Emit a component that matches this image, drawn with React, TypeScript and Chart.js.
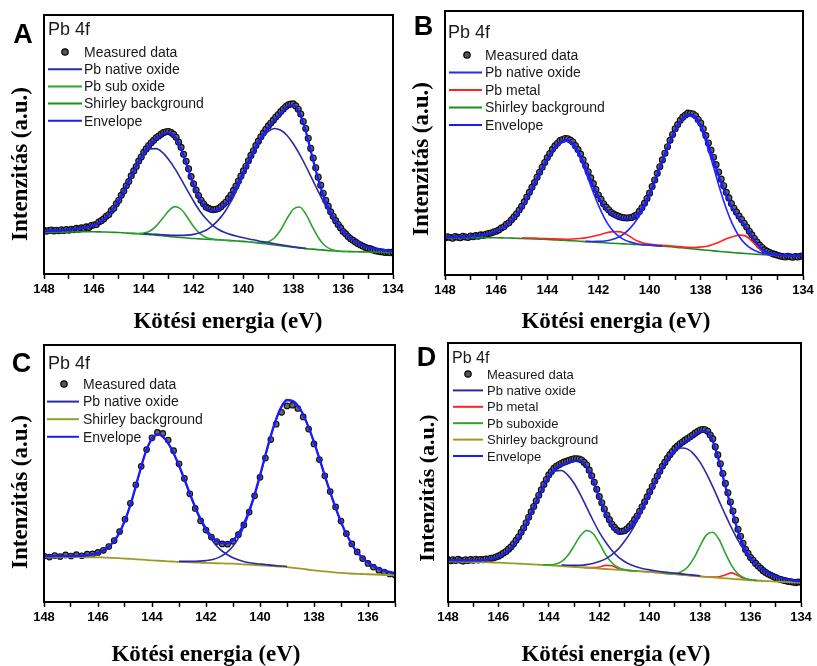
import React, { useEffect, useRef } from "react";
import { Chart, registerables } from "chart.js";

Chart.register(...registerables);

const SANS = "'Liberation Sans', Arial, Helvetica, sans-serif";
const SERIF = "'Liberation Serif', 'Times New Roman', Times, serif";

const X_TITLE = "Kötési energia (eV)";
const Y_TITLE = "Intenzitás (a.u.)";
const REGION = "Pb 4f";

// ---------- energy grids (eV) ----------
const E_FINE = [
  148.0, 147.9, 147.8, 147.7, 147.6, 147.5, 147.4, 147.3, 147.2, 147.1,
  147.0, 146.9, 146.8, 146.7, 146.6, 146.5, 146.4, 146.3, 146.2, 146.1,
  146.0, 145.9, 145.8, 145.7, 145.6, 145.5, 145.4, 145.3, 145.2, 145.1,
  145.0, 144.9, 144.8, 144.7, 144.6, 144.5, 144.4, 144.3, 144.2, 144.1,
  144.0, 143.9, 143.8, 143.7, 143.6, 143.5, 143.4, 143.3, 143.2, 143.1,
  143.0, 142.9, 142.8, 142.7, 142.6, 142.5, 142.4, 142.3, 142.2, 142.1,
  142.0, 141.9, 141.8, 141.7, 141.6, 141.5, 141.4, 141.3, 141.2, 141.1,
  141.0, 140.9, 140.8, 140.7, 140.6, 140.5, 140.4, 140.3, 140.2, 140.1,
  140.0, 139.9, 139.8, 139.7, 139.6, 139.5, 139.4, 139.3, 139.2, 139.1,
  139.0, 138.9, 138.8, 138.7, 138.6, 138.5, 138.4, 138.3, 138.2, 138.1,
  138.0, 137.9, 137.8, 137.7, 137.6, 137.5, 137.4, 137.3, 137.2, 137.1,
  137.0, 136.9, 136.8, 136.7, 136.6, 136.5, 136.4, 136.3, 136.2, 136.1,
  136.0, 135.9, 135.8, 135.7, 135.6, 135.5, 135.4, 135.3, 135.2, 135.1,
  135.0, 134.9, 134.8, 134.7, 134.6, 134.5, 134.4, 134.3, 134.2, 134.1,
  134.0,
];

const E_STEP2 = [
  148.0, 147.8, 147.6, 147.4, 147.2, 147.0, 146.8, 146.6, 146.4, 146.2,
  146.0, 145.8, 145.6, 145.4, 145.2, 145.0, 144.8, 144.6, 144.4, 144.2,
  144.0, 143.8, 143.6, 143.4, 143.2, 143.0, 142.8, 142.6, 142.4, 142.2,
  142.0, 141.8, 141.6, 141.4, 141.2, 141.0, 140.8, 140.6, 140.4, 140.2,
  140.0, 139.8, 139.6, 139.4, 139.2, 139.0, 138.8, 138.6, 138.4, 138.2,
  138.0, 137.8, 137.6, 137.4, 137.2, 137.0, 136.8, 136.6, 136.4, 136.2,
  136.0, 135.8, 135.6, 135.4, 135.2, 135.0,
];

const E_GRID = [
  148, 147.75, 147.5, 147.25, 147, 146.75, 146.5, 146.25,
  146, 145.75, 145.5, 145.25, 145, 144.75, 144.5, 144.25,
  144, 143.75, 143.5, 143.25, 143, 142.75, 142.5, 142.25,
  142, 141.75, 141.5, 141.25, 141, 140.75, 140.5, 140.25,
  140, 139.75, 139.5, 139.25, 139, 138.75, 138.5, 138.25,
  138, 137.75, 137.5, 137.25, 137, 136.75, 136.5, 136.25,
  136, 135.75, 135.5, 135.25, 135, 134.75, 134.5, 134.25,
  134,
];

// ---------- Panel A ----------
const A_MEAS = [
  16.9, 16.5, 16.8, 17.0, 16.6, 16.9, 16.7, 17.1, 16.8, 17.2,
  16.9, 17.3, 17.1, 17.6, 17.3, 17.8, 17.6, 18.2, 18.0, 18.7,
  18.9, 19.1, 20.1, 20.6, 21.3, 22.3, 23.0, 24.5, 25.4, 27.1,
  28.5, 30.4, 32.0, 34.1, 35.7, 37.9, 39.8, 41.5, 43.6, 45.2,
  47.0, 48.3, 49.6, 50.7, 51.6, 52.6, 53.3, 54.0, 54.6, 54.9,
  55.0, 54.6, 53.9, 52.8, 50.9, 48.9, 46.2, 43.5, 40.6, 37.6,
  34.8, 32.4, 30.3, 28.5, 27.1, 25.9, 25.4, 25.0, 24.8, 25.0,
  25.3, 26.0, 26.9, 27.8, 29.2, 30.5, 32.3, 34.0, 35.9, 37.8,
  39.8, 41.6, 43.7, 45.8, 47.6, 49.6, 51.3, 53.0, 54.5, 55.9,
  57.2, 58.3, 59.4, 60.6, 61.6, 62.7, 63.7, 64.7, 65.3, 65.6,
  65.7, 64.9, 63.6, 61.8, 58.9, 56.2, 52.4, 48.5, 44.8, 41.0,
  37.4, 34.3, 31.2, 28.5, 26.2, 24.0, 22.3, 20.6, 19.1, 17.8,
  16.4, 15.5, 14.5, 13.6, 13.0, 12.3, 11.7, 11.2, 10.7, 10.2,
  9.9, 9.7, 9.3, 9.0, 8.8, 8.6, 8.5, 8.3, 8.4, 8.2,
  8.5,
];
const A_BG = [
  16.0, 16.05, 16.1, 16.15, 16.2, 16.25, 16.3, 16.3,
  16.3, 16.25, 16.2, 16.1, 16.0, 15.85, 15.7, 15.55,
  15.4, 15.2, 15.0, 14.75, 14.5, 14.3, 14.1, 13.9,
  13.7, 13.55, 13.4, 13.3, 13.2, 13.05, 12.9, 12.75,
  12.6, 12.35, 12.1, 11.8, 11.5, 11.2, 10.9, 10.6,
  10.3, 10.05, 9.8, 9.6, 9.4, 9.2, 9.0, 8.85,
  8.7, 8.65, 8.6, 8.55, 8.5, 8.45, 8.4, 8.35,
  8.3,
];
const A_ENV = [
  16.6, 16.7, 16.8, 16.95, 17.1, 17.35, 17.7, 18.1,
  18.8, 20.05, 22.0, 24.7, 28.4, 32.95, 37.7, 42.55,
  46.8, 49.95, 52.2, 53.95, 54.6, 53.0, 48.3, 41.4,
  34.3, 28.85, 25.5, 24.4, 24.9, 26.95, 30.2, 34.55,
  39.4, 44.45, 49.2, 53.4, 56.7, 59.5, 62.1, 64.6,
  65.2, 62.2, 55.2, 45.7, 36.6, 29.1, 23.7, 19.65,
  16.5, 14.25, 12.5, 11.25, 10.3, 9.75, 9.4, 9.05,
  8.8,
];
const A_NAT1_START = 148;
const A_NAT1 = [
  16.6, 16.7, 16.8, 16.95, 17.1, 17.35, 17.7, 18.1,
  18.8, 20.05, 22.0, 24.7, 28.4, 32.95, 37.6, 42.35,
  46.2, 48.3, 48.4, 46.95, 44.2, 40.7, 36.6, 32.3,
  28.1, 24.35, 21.3, 18.9, 17.2, 16.05, 15.2, 14.55,
  14.0, 13.45, 13.0, 12.5, 12.1, 11.7, 11.3, 10.9,
  10.5, 10.2, 9.9,
];
const A_NAT2_START = 144;
const A_NAT2 = [
  15.6, 15.45, 15.3, 15.15,
  15.0, 14.9, 14.9, 15.0,
  15.3, 15.95, 16.9, 18.6,
  20.9, 23.95, 27.9, 32.75,
  38.0, 43.35, 48.3, 52.4,
  55.1, 56.2, 55.5, 53.5,
  50.3, 46.25, 41.7, 36.8,
  31.9, 27.2, 23.1, 19.55,
  16.5, 14.25, 12.5, 11.25,
  10.3, 9.75, 9.4, 9.05,
  8.8,
];
const A_SUB1_START = 144.5;
const A_SUB1 = [
  15.7, 15.65, 15.8, 16.6, 18.5, 21.35, 24.4, 26.0, 25.0,
  21.9, 18.3, 15.65, 14.1, 13.5, 13.2, 13.05, 12.9,
];
const A_SUB2_START = 139.75;
const A_SUB2 = [
  12.35, 12.15, 12.1, 12.5, 14.0, 17.1, 21.4, 25.0, 25.85,
  23.2, 18.5, 14.1, 11.1, 9.6, 8.95, 8.7, 8.65,
];

// ---------- Panel B ----------
const B_MEAS = [
  14.0, 14.5, 14.2, 13.9, 14.6, 14.3, 14.1, 14.7, 14.4, 14.2,
  14.8, 14.5, 14.9, 14.7, 15.2, 15.0, 15.4, 15.7, 15.9, 16.3,
  16.6, 17.0, 17.8, 18.3, 19.2, 19.8, 20.9, 22.0, 23.2, 24.6,
  26.0, 27.7, 29.5, 31.3, 33.2, 35.0, 37.0, 38.9, 40.8, 42.6,
  44.5, 46.0, 47.6, 48.9, 49.9, 50.9, 51.3, 51.7, 51.6, 51.1,
  50.4, 49.0, 47.5, 45.8, 43.6, 41.4, 39.1, 36.8, 34.6, 32.4,
  30.3, 28.7, 27.0, 25.7, 24.7, 23.7, 23.1, 22.6, 22.2, 21.9,
  21.7, 21.6, 21.7, 21.8, 22.3, 22.8, 24.1, 25.5, 27.2, 29.0,
  31.0, 33.5, 36.0, 38.5, 41.0, 43.6, 46.1, 48.6, 51.0, 53.2,
  55.4, 57.0, 58.6, 59.8, 60.6, 61.3, 61.2, 61.0, 60.3, 58.9,
  57.6, 55.4, 52.8, 50.0, 47.3, 44.6, 41.8, 39.0, 36.3, 33.8,
  31.3, 29.2, 27.1, 25.3, 23.8, 22.3, 21.0, 19.6, 18.2, 16.6,
  15.2, 13.8, 12.5, 11.3, 10.4, 9.5, 9.0, 8.5, 8.1, 7.8,
  7.5, 7.2, 7.0, 6.8, 7.1, 6.9, 6.7, 7.0, 6.8, 7.1,
  7.3,
];
const B_BG = [
  14.0, 14.05, 14.1, 14.12, 14.15, 14.15, 14.15, 14.12,
  14.1, 14.05, 14.0, 13.92, 13.85, 13.75, 13.65, 13.55,
  13.45, 13.32, 13.2, 13.07, 12.95, 12.8, 12.65, 12.5,
  12.35, 12.2, 12.05, 11.92, 11.8, 11.67, 11.55, 11.42,
  11.3, 11.12, 10.95, 10.75, 10.55, 10.3, 10.05, 9.82,
  9.6, 9.37, 9.15, 8.92, 8.7, 8.5, 8.3, 8.12,
  7.95, 7.8, 7.65, 7.55, 7.45, 7.37, 7.3, 7.25,
  7.2,
];
const B_ENV = [
  14.3, 14.35, 14.45, 14.52, 14.65, 14.85, 15.15, 15.62,
  16.5, 17.85, 19.7, 22.32, 25.75, 30.0, 34.75, 39.55,
  44.1, 47.87, 50.3, 51.17, 49.75, 46.0, 40.55, 34.8,
  29.65, 25.6, 23.15, 21.82, 21.3, 21.47, 22.65, 25.92,
  30.7, 36.72, 43.15, 49.35, 54.85, 58.85, 60.75, 60.22,
  56.7, 50.47, 43.45, 36.32, 30.1, 25.1, 21.5, 18.42,
  14.75, 11.3, 9.05, 8.05, 7.65, 7.4, 7.3, 7.25,
  7.2,
];
const B_NAT1_START = 148;
const B_NAT1 = [
  14.3, 14.35, 14.45, 14.52, 14.65, 14.85, 15.15, 15.6,
  16.5, 17.85, 19.7, 22.3, 25.55, 29.75, 34.45, 39.25,
  43.75, 47.5, 49.9, 50.65, 49.05, 45.0, 39.05, 32.5,
  26.45, 21.3, 17.55, 15.0, 13.4, 12.45, 11.85, 11.5,
  11.3, 11.12, 10.95,
];
const B_NAT2_START = 142.5;
const B_NAT2 = [
  12.75, 12.7,
  12.75, 12.9, 13.35, 14.2, 15.6, 17.85, 20.95, 25.1,
  30.3, 36.4, 42.85, 49.05, 54.55, 58.5, 60.35, 59.6,
  55.7, 48.95, 40.95, 32.6, 25.1, 19.1, 14.7, 11.7,
  9.85, 8.7, 8.05, 7.75, 7.55, 7.4, 7.3,
];
const B_METAL_START = 145;
const B_METAL = [
  14.05, 14.0, 13.95, 13.85, 13.8, 13.67, 13.6, 13.57,
  13.65, 13.8, 14.05, 14.6, 15.15, 15.8, 16.35, 16.42,
  15.9, 14.47, 12.95, 12.12, 11.7, 11.42, 11.25, 11.05,
  10.85, 10.65, 10.45, 10.42, 10.6, 10.87, 11.65, 12.62,
  13.7, 14.5, 15.1, 14.82, 12.85, 10.4, 8.65, 7.85,
  7.55, 7.37, 7.3,
];

// ---------- Panel C ----------
const C_MEAS = [
  17.9, 17.5, 18.1, 17.7, 18.3, 17.9, 18.4, 18.0, 18.6, 18.7,
  19.3, 20.1, 21.6, 23.9, 27.4, 32.2, 38.4, 45.6, 52.8, 59.3,
  63.9, 66.0, 65.6, 63.0, 58.9, 53.8, 48.1, 42.1, 36.4, 31.6,
  28.0, 25.3, 23.5, 22.6, 22.5, 23.6, 26.2, 30.0, 35.0, 41.3,
  48.5, 56.0, 63.2, 69.2, 73.8, 76.3, 76.6, 75.3, 72.0, 67.3,
  61.5, 55.4, 49.1, 43.0, 37.0, 31.5, 26.6, 22.6, 19.5, 16.9,
  15.0, 13.6, 12.4, 11.6, 10.9, 10.5,
];
const C_BG_START = 148;
const C_BG = [
  17.5, 17.5, 17.5, 17.48, 17.45, 17.43, 17.42, 17.41,
  17.4, 17.3, 17.2, 17.05, 16.9, 16.75, 16.6, 16.4,
  16.2, 16.05, 15.9, 15.75, 15.6, 15.5, 15.4, 15.3,
  15.2, 15.12, 15.05, 14.97, 14.9, 14.75, 14.6, 14.45,
  14.3, 14.12, 13.95, 13.78, 13.6, 13.3, 13.0, 12.65,
  12.3, 12.05, 11.8, 11.55, 11.3, 11.15, 11.0, 10.9,
  10.8, 10.7, 10.6, 10.5, 10.4,
];
const C_ENV_START = 148;
const C_ENV = [
  17.8, 17.8, 17.85, 17.88, 17.9, 17.98, 18.1, 18.45,
  19.1, 20.3, 22.6, 26.1, 31.8, 39.5, 48.9, 57.8,
  63.6, 65.25, 63.2, 58.95, 53.1, 46.4, 39.6, 33.4,
  28.6, 25.0, 23.05, 22.77, 24.0, 27.35, 32.8, 40.15,
  49.3, 59.12, 68.15, 75.13, 78.6, 78.05, 74.9, 69.3,
  62.2, 54.15, 45.9, 38.15, 31.1, 25.35, 20.8, 17.6,
  15.3, 13.7, 12.6, 11.8, 11.3,
];
const C_NAT1_START = 148;
const C_NAT1 = [
  17.8, 17.8, 17.85, 17.88, 17.9, 17.98, 18.1, 18.45,
  19.1, 20.3, 22.6, 26.1, 31.8, 39.5, 48.9, 57.8,
  63.6, 65.25, 63.2, 58.95, 52.9, 46.1, 39.2, 32.8,
  27.7, 23.62, 20.65, 18.67, 17.2, 16.25, 15.5, 15.05,
  14.8, 14.52, 14.25, 14.03, 13.8,
];
const C_NAT2_START = 143;
const C_NAT2 = [
  15.8, 15.8, 15.8, 15.9, 16.1, 16.52, 17.45, 19.07,
  21.7, 25.85, 31.9, 39.55, 48.8, 58.72, 67.85, 74.88,
  78.4, 77.9, 74.8, 69.25, 62.2, 54.15, 45.9, 38.15,
  31.1, 25.35, 20.8, 17.6, 15.3, 13.7, 12.6, 11.8,
  11.3,
];

// ---------- Panel D ----------
const D_MEAS = [
  16.4, 15.9, 16.3, 16.0, 16.5, 16.1, 15.8, 16.3, 16.0, 16.4,
  16.1, 16.5, 16.2, 16.4, 16.3, 16.6, 16.5, 16.9, 17.0, 17.4,
  17.7, 18.2, 18.9, 19.5, 20.4, 21.3, 22.5, 23.8, 25.2, 26.9,
  28.6, 30.6, 32.7, 34.8, 36.9, 39.1, 41.2, 43.3, 45.4, 47.3,
  49.1, 50.4, 51.6, 52.4, 53.0, 53.6, 54.0, 54.3, 54.7, 55.0,
  55.3, 55.3, 55.2, 54.8, 53.9, 52.9, 50.9, 48.7, 46.2, 43.5,
  40.7, 38.3, 35.9, 33.6, 31.8, 30.0, 28.8, 27.8, 27.2, 27.3,
  27.5, 28.3, 29.2, 30.3, 31.8, 33.2, 35.0, 36.8, 38.7, 40.6,
  42.6, 44.6, 46.7, 48.6, 50.5, 52.4, 53.9, 55.5, 56.9, 58.1,
  59.3, 60.2, 61.1, 61.8, 62.5, 63.1, 63.8, 64.5, 65.2, 65.8,
  66.4, 66.6, 66.5, 65.9, 64.5, 63.0, 59.9, 56.8, 53.4, 49.6,
  45.8, 42.2, 38.6, 35.1, 31.6, 28.1, 25.4, 22.7, 20.3, 18.8,
  17.2, 16.1, 14.9, 13.9, 13.0, 12.1, 11.4, 10.8, 10.3, 9.8,
  9.4, 9.0, 8.7, 8.4, 8.2, 7.9, 7.8, 7.6, 7.5, 7.7,
  7.6,
];
const D_BG = [
  15.7, 15.64, 15.58, 15.51, 15.45, 15.39, 15.33, 15.26,
  15.2, 15.07, 14.95, 14.82, 14.7, 14.57, 14.45, 14.32,
  14.2, 14.04, 13.88, 13.71, 13.55, 13.39, 13.23, 13.06,
  12.9, 12.74, 12.58, 12.41, 12.25, 12.09, 11.93, 11.76,
  11.6, 11.39, 11.18, 10.96, 10.75, 10.54, 10.33, 10.11,
  9.9, 9.71, 9.53, 9.34, 9.15, 8.96, 8.78, 8.59,
  8.4, 8.28, 8.15, 8.03, 7.9, 7.8, 7.7, 7.6,
  7.5,
];
const D_ENV = [
  16.1, 16.09, 16.08, 16.06, 16.05, 16.09, 16.28, 16.66,
  17.5, 18.87, 20.95, 24.02, 28.2, 33.27, 38.65, 43.97,
  48.65, 51.54, 52.88, 53.76, 54.55, 54.49, 52.18, 46.96,
  40.1, 34.04, 29.53, 26.81, 27.2, 29.34, 32.93, 37.36,
  42.3, 47.29, 51.98, 55.81, 58.78, 60.9, 62.43, 64.16,
  65.9, 65.96, 62.18, 54.34, 44.75, 35.96, 27.38, 20.95,
  17.08, 14.38, 12.35, 10.93, 9.9, 9.1, 8.6, 8.2,
  7.95,
];
const D_NAT1_START = 148;
const D_NAT1 = [
  16.1, 16.09, 16.08, 16.06, 16.05, 16.09, 16.28, 16.66,
  17.5, 18.87, 20.95, 24.02, 28.2, 33.27, 38.65, 43.92,
  48.2, 50.64, 50.78, 49.01, 45.85, 41.49, 36.53, 31.56,
  27.0, 23.14, 19.88, 17.41, 15.65, 14.39, 13.53, 12.86,
  12.4, 11.99, 11.68, 11.36, 11.1, 10.86, 10.63, 10.36,
  10.1,
];
const D_NAT2_START = 143.5;
const D_NAT2 = [
  14.28, 14.21,
  14.15, 14.19, 14.43, 14.86, 15.6, 16.64, 18.28, 20.41,
  23.45, 26.99, 31.33, 36.26, 41.5, 46.69, 51.48, 55.36,
  58.15, 59.44, 59.03, 57.11, 53.9, 49.61, 44.53, 39.04,
  33.65, 28.56, 23.88, 19.89, 16.8, 14.38, 12.35, 10.93,
  9.9, 9.1, 8.6, 8.2, 7.95,
];
const D_SUB1_START = 144.25;
const D_SUB1 = [
  14.37, 14.35, 14.59, 15.58, 17.96, 21.65, 25.59, 27.63,
  26.46, 22.7, 18.34, 15.13, 13.31, 12.5, 12.14, 11.93,
];
const D_SUB2_START = 139.5;
const D_SUB2 = [
  11.18, 11.0, 11.03, 11.68, 13.43, 16.91, 21.7, 25.91,
  26.93, 24.14, 18.85, 14.06, 10.88, 9.25, 8.58, 8.28,
];
const D_METAL_START = 143;
const D_METAL = [
  13.55, 13.39, 13.28, 13.26, 13.5, 14.14, 13.98, 12.91,
  12.35, 12.09, 11.93, 11.76, 11.6, 11.39, 11.18, 10.96,
  10.75, 10.54, 10.33, 10.11, 9.9, 9.71, 9.63, 9.74,
  10.45, 11.26, 10.18, 8.99, 8.5, 8.28, 8.15,
];

// ---------- helpers ----------
type Pt = { x: number; y: number };
const zip = (xs: number[], ys: number[]): Pt[] => ys.map((y, i) => ({ x: xs[i], y }));
const fromGrid = (start: number, ys: number[]): Pt[] => {
  const i0 = E_GRID.indexOf(start);
  return ys.map((y, k) => ({ x: E_GRID[i0 + k], y }));
};

const COL = {
  navy: "#2a2aa6",
  blue: "#2626ff",
  envelope: "#1b1bff",
  sub: "#2ea32e",
  shirleyGreen: "#1f8c1f",
  olive: "#9c9c24",
  metal: "#ff2222",
};

function measured(points: Pt[], radius: number) {
  return {
    label: "Measured data",
    data: points,
    showLine: false,
    pointRadius: radius,
    pointHoverRadius: radius,
    pointBackgroundColor: "#666666",
    pointBorderColor: "#0d0d0d",
    pointBorderWidth: 1.1,
    borderColor: "#0d0d0d",
    backgroundColor: "#666666",
    order: 10,
    isMeasured: true,
  };
}

function curve(label: string, points: Pt[], color: string, width: number, order: number, noLegend = false) {
  return {
    label,
    data: points,
    borderColor: color,
    backgroundColor: color,
    borderWidth: width,
    pointRadius: 0,
    pointHoverRadius: 0,
    cubicInterpolationMode: "monotone",
    fill: false,
    order,
    noLegend,
  };
}

const PANELS: any[] = [
  {
    letter: "A",
    canvas: { x: 0, y: 0, w: 408, h: 333 },
    area: { l: 44, t: 15, r: 393, b: 274 },
    xMin: 134,
    xMax: 148,
    letterPos: { x: 23, y: 33 },
    pb: { x: 48, y: 29, size: 18 },
    legend: { y0: 52, dy: 17.2, x0: 48, x1: 82, dot: 65, text: 84, size: 14 },
    xTitle: { x: 228, y: 322, size: 23 },
    yTitle: { x: 21, y: 164, size: 23 },
    datasets: () => [
      measured(zip(E_FINE, A_MEAS), 3),
      curve("Pb native oxide", fromGrid(A_NAT1_START, A_NAT1), COL.navy, 1.6, 2),
      curve("Pb sub oxide", fromGrid(A_SUB1_START, A_SUB1), COL.sub, 1.6, 3),
      curve("Shirley background", fromGrid(148, A_BG), COL.shirleyGreen, 1.6, 4),
      curve("Envelope", fromGrid(148, A_ENV), COL.envelope, 2.3, 0),
      curve("Pb native oxide", fromGrid(A_NAT2_START, A_NAT2), COL.navy, 1.6, 2, true),
      curve("Pb sub oxide", fromGrid(A_SUB2_START, A_SUB2), COL.sub, 1.6, 3, true),
    ],
  },
  {
    letter: "B",
    canvas: { x: 408, y: 0, w: 409, h: 333 },
    area: { l: 445, t: 11, r: 803, b: 275 },
    xMin: 134,
    xMax: 148,
    letterPos: { x: 423.5, y: 25.5 },
    pb: { x: 448, y: 32, size: 18 },
    legend: { y0: 55, dy: 17.5, x0: 449, x1: 482, dot: 467, text: 485, size: 14 },
    xTitle: { x: 616, y: 322, size: 23 },
    yTitle: { x: 422, y: 159, size: 23 },
    datasets: () => [
      measured(zip(E_FINE, B_MEAS), 3),
      curve("Pb native oxide", fromGrid(B_NAT1_START, B_NAT1), COL.blue, 1.6, 2),
      curve("Pb metal", fromGrid(B_METAL_START, B_METAL), COL.metal, 1.6, 3),
      curve("Shirley background", fromGrid(148, B_BG), COL.shirleyGreen, 1.6, 4),
      curve("Envelope", fromGrid(148, B_ENV), COL.envelope, 2.3, 0),
      curve("Pb native oxide", fromGrid(B_NAT2_START, B_NAT2), COL.blue, 1.6, 2, true),
    ],
  },
  {
    letter: "C",
    canvas: { x: 0, y: 333, w: 408, h: 333 },
    area: { l: 44, t: 345, r: 395, b: 602 },
    xMin: 135,
    xMax: 148,
    letterPos: { x: 21.5, y: 362.5 },
    pb: { x: 48, y: 363, size: 18 },
    legend: { y0: 384, dy: 17.6, x0: 47, x1: 79, dot: 64, text: 83, size: 14 },
    xTitle: { x: 206, y: 655, size: 23 },
    yTitle: { x: 21, y: 492, size: 23 },
    datasets: () => [
      measured(zip(E_STEP2, C_MEAS), 2.8),
      curve("Pb native oxide", fromGrid(C_NAT1_START, C_NAT1), COL.navy, 1.6, 2),
      curve("Shirley background", fromGrid(C_BG_START, C_BG), COL.olive, 1.8, 4),
      curve("Envelope", fromGrid(C_ENV_START, C_ENV), COL.envelope, 2.3, 0),
      curve("Pb native oxide", fromGrid(C_NAT2_START, C_NAT2), COL.navy, 1.6, 2, true),
    ],
  },
  {
    letter: "D",
    canvas: { x: 408, y: 333, w: 409, h: 333 },
    area: { l: 448, t: 343, r: 801, b: 602 },
    xMin: 134,
    xMax: 148,
    letterPos: { x: 426.5, y: 356.5 },
    pb: { x: 452, y: 357, size: 16 },
    legend: { y0: 374, dy: 16.4, x0: 453, x1: 483, dot: 468, text: 487, size: 13 },
    xTitle: { x: 616, y: 655, size: 23 },
    yTitle: { x: 428, y: 488, size: 22 },
    datasets: () => [
      measured(zip(E_FINE, D_MEAS), 3),
      curve("Pb native oxide", fromGrid(D_NAT1_START, D_NAT1), COL.navy, 1.6, 2),
      curve("Pb metal", fromGrid(D_METAL_START, D_METAL), COL.metal, 1.6, 5),
      curve("Pb suboxide", fromGrid(D_SUB1_START, D_SUB1), COL.sub, 1.6, 3),
      curve("Shirley background", fromGrid(148, D_BG), COL.olive, 1.8, 4),
      curve("Envelope", fromGrid(148, D_ENV), COL.envelope, 2.3, 0),
      curve("Pb native oxide", fromGrid(D_NAT2_START, D_NAT2), COL.navy, 1.6, 2, true),
      curve("Pb suboxide", fromGrid(D_SUB2_START, D_SUB2), COL.sub, 1.6, 3, true),
    ],
  },
];

const X_AXIS_H = 24;

function decorPlugin(cfg: any) {
  return {
    id: "panelDecor" + cfg.letter,
    afterDraw(chart: any) {
      const ctx: CanvasRenderingContext2D = chart.ctx;
      const a = chart.chartArea;
      const ox = cfg.canvas.x;
      const oy = cfg.canvas.y;
      ctx.save();
      // frame
      ctx.strokeStyle = "#000";
      ctx.lineWidth = 2;
      ctx.strokeRect(a.left, a.top, a.right - a.left, a.bottom - a.top);

      // panel letter
      ctx.fillStyle = "#000";
      ctx.textAlign = "center";
      ctx.textBaseline = "alphabetic";
      ctx.font = `bold 27px ${SANS}`;
      ctx.fillText(cfg.letter, cfg.letterPos.x - ox, cfg.letterPos.y - oy + 9.7);

      // region label
      ctx.fillStyle = "#1a1a1a";
      ctx.textAlign = "left";
      ctx.font = `${cfg.pb.size}px ${SANS}`;
      ctx.fillText(REGION, cfg.pb.x - ox, cfg.pb.y - oy + cfg.pb.size * 0.36);

      // legend
      const L = cfg.legend;
      const items = chart.data.datasets.filter((d: any) => !d.noLegend);
      ctx.font = `${L.size}px ${SANS}`;
      ctx.textBaseline = "middle";
      items.forEach((d: any, i: number) => {
        const y = L.y0 + i * L.dy - oy;
        if (d.isMeasured) {
          ctx.beginPath();
          ctx.arc(L.dot - ox, y, 3.2, 0, Math.PI * 2);
          ctx.fillStyle = "#555";
          ctx.fill();
          ctx.lineWidth = 1.2;
          ctx.strokeStyle = "#000";
          ctx.stroke();
        } else {
          ctx.beginPath();
          ctx.moveTo(L.x0 - ox, y);
          ctx.lineTo(L.x1 - ox, y);
          ctx.lineWidth = 2;
          ctx.strokeStyle = d.borderColor;
          ctx.stroke();
        }
        ctx.fillStyle = "#1a1a1a";
        ctx.fillText(d.label, L.text - ox, y + 1);
      });

      // axis titles
      ctx.fillStyle = "#000";
      ctx.textAlign = "center";
      ctx.textBaseline = "middle";
      ctx.font = `bold ${cfg.xTitle.size}px ${SERIF}`;
      ctx.fillText(X_TITLE, cfg.xTitle.x - ox, cfg.xTitle.y - oy);

      ctx.save();
      ctx.translate(cfg.yTitle.x - ox, cfg.yTitle.y - oy);
      ctx.rotate(-Math.PI / 2);
      ctx.font = `bold ${cfg.yTitle.size}px ${SERIF}`;
      ctx.fillText(Y_TITLE, 0, 0);
      ctx.restore();

      ctx.restore();
    },
  };
}

function Panel({ cfg }: { cfg: any }) {
  const ref = useRef<HTMLCanvasElement>(null);
  useEffect(() => {
    const c = cfg.canvas;
    const a = cfg.area;
    const chart = new Chart(ref.current as HTMLCanvasElement, {
      type: "line",
      data: { datasets: cfg.datasets() },
      options: {
        animation: false,
        responsive: false,
        devicePixelRatio: 1,
        layout: {
          padding: {
            left: a.l - c.x,
            top: a.t - c.y,
            right: c.x + c.w - a.r,
            bottom: c.y + c.h - a.b - X_AXIS_H,
          },
        },
        scales: {
          x: {
            type: "linear",
            reverse: true,
            min: cfg.xMin,
            max: cfg.xMax,
            afterFit: (s: any) => {
              s.height = X_AXIS_H;
            },
            ticks: {
              stepSize: 1,
              autoSkip: false,
              maxRotation: 0,
              minRotation: 0,
              padding: 3,
              color: "#000",
              font: { family: SANS, size: 13, weight: "bold" },
              callback: (v: any) => (Math.round(Number(v)) % 2 === 0 ? String(v) : ""),
            },
            grid: {
              display: true,
              drawOnChartArea: false,
              drawTicks: true,
              tickLength: 5,
              tickColor: "#000",
              tickWidth: 1.5,
            },
            border: { display: true, color: "#000", width: 2 },
          },
          y: { type: "linear", display: false, min: 0, max: 100 },
        },
        plugins: {
          legend: { display: false },
          tooltip: { enabled: false },
        },
        events: [],
      } as any,
      plugins: [decorPlugin(cfg)],
    });
    return () => chart.destroy();
  }, [cfg]);
  return (
    <div
      style={{
        position: "absolute",
        left: cfg.canvas.x,
        top: cfg.canvas.y,
        width: cfg.canvas.w,
        height: cfg.canvas.h,
      }}
    >
      <canvas
        ref={ref}
        width={cfg.canvas.w}
        height={cfg.canvas.h}
        style={{ display: "block", width: cfg.canvas.w, height: cfg.canvas.h }}
      />
    </div>
  );
}

export default function App() {
  return (
    <div
      style={{
        position: "absolute",
        left: 0,
        top: 0,
        width: 817,
        height: 666,
        background: "#fff",
        overflow: "hidden",
      }}
    >
      {PANELS.map((p) => (
        <Panel key={p.letter} cfg={p} />
      ))}
    </div>
  );
}
